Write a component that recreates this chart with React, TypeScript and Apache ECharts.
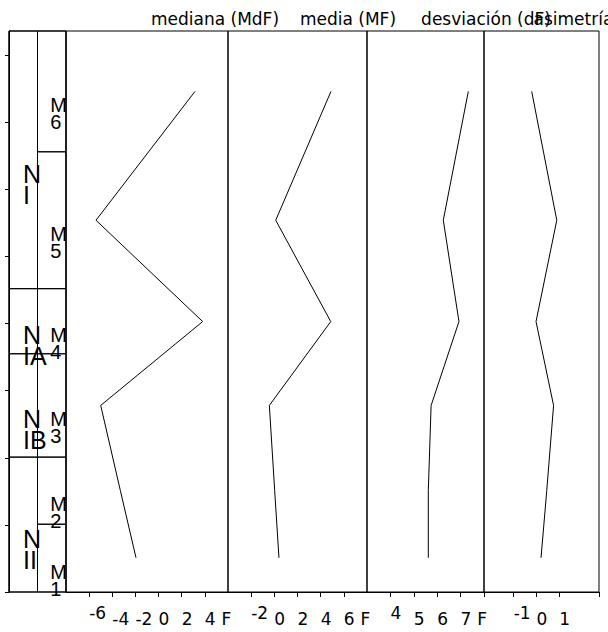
import React, { useEffect, useRef } from 'react';
import * as echarts from 'echarts';

// ---- data ----
const depthMax = 8.36;
const depthTicks = [0, 1, 2, 3, 4, 5, 6, 7, 8];

const unitNames = ['N\nI', 'N\nIA', 'N\nIB', 'N\nII'];
const unitTops = [8.36, 4.52, 3.55, 2.01];
const unitBases = [4.52, 3.55, 2.01, 0];

const subunitNames = ['M\n6', 'M\n5', 'M\n4', 'M\n3', 'M\n2', 'M\n1'];
const subunitTops = [8.36, 6.56, 4.52, 3.55, 2.01, 1.01];
const subunitBases = [6.56, 4.52, 3.55, 2.01, 1.01, 0];

const sampleDepths = [7.46, 5.54, 4.03, 2.78, 1.51, 0.51];
const mediana = [3.15, -5.41, 3.81, -5.0, -3.3, -1.95];
const media = [4.89, 0.12, 4.87, -0.43, 0.03, 0.4];
const desviacion = [7.33, 6.26, 6.93, 5.74, 5.62, 5.62];
const asimetria = [-0.21, 0.89, -0.02, 0.75, 0.45, 0.2];

const panelTitles = ['mediana (MdF)', 'media (MF)', 'desviación (dF)', 'asimetría (SkF)'];
const panelMins = [-8, -4, 3, -2.3];
const panelMaxs = [6, 8, 8, 2.74];
const panelIntervals = [2, 2, 1, 1];
const panelUnitLabels = ['F', 'F', 'F', ''];
const asimetriaTicks = [-1, 0, 1];

// ---- layout ----
const FRAME_TOP = 31;
const FRAME_H = 561;
const colLefts = [9, 37.5, 66, 228, 367, 484];
const colWidths = [28.5, 28.5, 162, 139, 117, 115];
const titleX = [215, 348, 486, 598];
const FONT = 'DejaVu Sans';

export default function App() {
  const ref = useRef<HTMLDivElement>(null);

  useEffect(() => {
    if (!ref.current) return;
    const chart = echarts.init(ref.current, null, { renderer: 'svg' });
    const panelData = [mediana, media, desviacion, asimetria];

    const grids = colLefts.map((l, i) => ({
      left: l,
      top: FRAME_TOP,
      width: colWidths[i],
      height: FRAME_H,
      show: true,
      borderColor: '#000',
      borderWidth: 1,
      backgroundColor: 'transparent',
      containLabel: false,
      outerBoundsMode: 'none',
    }));

    const xAxes: any[] = [
      { type: 'value', gridIndex: 0, min: 0, max: 1, show: false },
      { type: 'value', gridIndex: 1, min: 0, max: 1, show: false },
    ];
    panelTitles.forEach((_, i) => {
      const isCustom = i === 3;
      const firstLabel = isCustom ? asimetriaTicks[0] : panelMins[i] + panelIntervals[i];
      const axis: any = {
        type: 'value',
        gridIndex: i + 2,
        min: panelMins[i],
        max: panelMaxs[i],
        interval: panelIntervals[i],
        axisLine: { show: true, onZero: false, lineStyle: { color: '#000', width: 1 } },
        axisTick: { show: true, inside: false, length: 5, lineStyle: { color: '#000', width: 1 } },
        splitLine: { show: false },
        axisLabel: {
          show: true,
          showMinLabel: isCustom,
          showMaxLabel: isCustom,
          align: 'left',
          margin: 12,
          fontFamily: FONT,
          fontSize: 17,
          color: '#000',
          formatter: (v: number) => (Math.abs(v - firstLabel) < 1e-9 ? `{r|${v}}` : `{n|${v}}`),
          rich: {
            n: { fontFamily: FONT, fontSize: 17, lineHeight: 29, color: '#000' },
            r: { fontFamily: FONT, fontSize: 17, lineHeight: 17, color: '#000' },
          },
        },
      };
      if (isCustom) {
        axis.axisTick.customValues = [panelMins[i], ...asimetriaTicks, panelMaxs[i]];
        axis.axisLabel.customValues = asimetriaTicks;
      }
      if (panelUnitLabels[i]) {
        axis.name = panelUnitLabels[i];
        axis.nameLocation = 'end';
        axis.nameGap = 1;
        axis.nameTextStyle = {
          fontFamily: FONT,
          fontSize: 17,
          color: '#000',
          align: 'right',
          verticalAlign: 'top',
          lineHeight: 17,
          padding: [18, 0, 0, 0],
        };
      }
      xAxes.push(axis);
    });

    const yAxes: any[] = colLefts.map((_, i) =>
      i === 0
        ? {
            type: 'value',
            gridIndex: 0,
            min: 0,
            max: depthMax,
            axisLine: { show: true, onZero: false, lineStyle: { color: '#000', width: 1 } },
            axisTick: {
              show: true,
              inside: false,
              length: 4,
              customValues: depthTicks,
              lineStyle: { color: '#000', width: 1 },
            },
            axisLabel: { show: false },
            splitLine: { show: false },
          }
        : { type: 'value', gridIndex: i, min: 0, max: depthMax, show: false }
    );

    const zoneSeries = (
      idx: number,
      names: string[],
      tops: number[],
      bases: number[],
      fontSize: number,
      lineHeight: number,
      xFrac: number,
      yOff: number
    ) => ({
      type: 'custom',
      xAxisIndex: idx,
      yAxisIndex: idx,
      silent: true,
      clip: false,
      data: tops.map((t, i) => [bases[i], t]),
      renderItem: (params: any, api: any) => {
        const base = api.value(0);
        const top = api.value(1);
        const p0 = api.coord([0, top]);
        const p1 = api.coord([1, base]);
        const mid = api.coord([0, (top + base) / 2])[1];
        return {
          type: 'group',
          children: [
            {
              type: 'rect',
              shape: { x: p0[0], y: p0[1], width: p1[0] - p0[0], height: p1[1] - p0[1] },
              style: { fill: 'none', stroke: '#000', lineWidth: 1 },
            },
            {
              type: 'text',
              x: p0[0] + xFrac * (p1[0] - p0[0]),
              y: mid + yOff,
              style: {
                text: names[params.dataIndex],
                fontFamily: 'Liberation Sans',
                fontSize,
                lineHeight,
                align: 'left',
                verticalAlign: 'top',
                fill: '#000',
              },
            },
          ],
        };
      },
    });

    const lineSeries = panelData.map((vals, i) => ({
      type: 'line',
      xAxisIndex: i + 2,
      yAxisIndex: i + 2,
      data: sampleDepths.map((d, j) => [vals[j], d]),
      showSymbol: false,
      symbol: 'none',
      silent: true,
      clip: false,
      lineStyle: { color: '#000', width: 1 },
    }));

    chart.setOption({
      animation: false,
      backgroundColor: '#fff',
      grid: grids,
      xAxis: xAxes,
      yAxis: yAxes,
      graphic: panelTitles.map((t, i) => ({
        type: 'text',
        x: titleX[i],
        y: 19,
        silent: true,
        style: {
          text: t,
          fontFamily: FONT,
          fontSize: 17,
          align: 'center',
          verticalAlign: 'middle',
          fill: '#000',
        },
      })),
      series: [
        zoneSeries(0, unitNames, unitTops, unitBases, 25, 21, 0.49, 3.5),
        zoneSeries(1, subunitNames, subunitTops, subunitBases, 20, 17, 0.45, 5),
        ...lineSeries,
      ],
    });

    return () => chart.dispose();
  }, []);

  return (
    <div
      ref={ref}
      style={{ position: 'fixed', left: 0, top: 0, width: 608, height: 632, background: '#fff' }}
    />
  );
}
